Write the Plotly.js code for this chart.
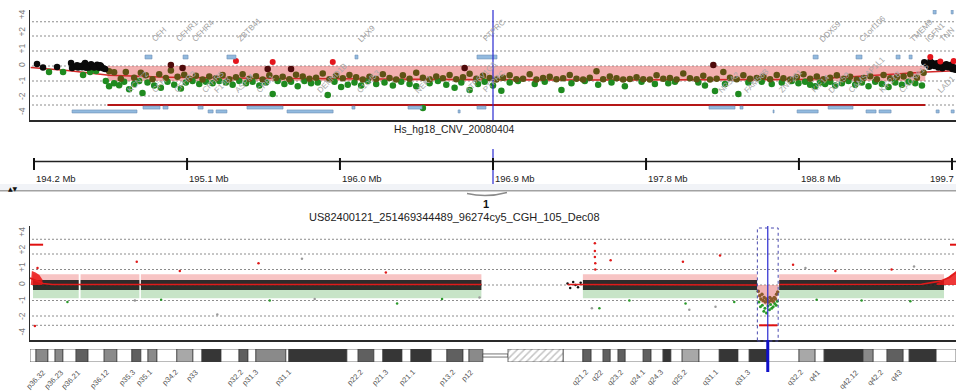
<!DOCTYPE html>
<html><head><meta charset="utf-8">
<script src="https://cdn.plot.ly/plotly-3.0.1.min.js"></script>
<style>html,body{margin:0;padding:0;background:#fff}#chart{width:956px;height:391px}</style>
</head><body><div id="chart"></div>
<script>
// ---------------- data ----------------
const yTickPos = [3.35, 2.2, 1.07, 0, -1.05, -2.1, -3.1];
const yTickText = ['+4', '+2', '+1', '0', '-1', '-2', '-4'];
const gridPos = [2.95, 2.0, 1.0, 0, -1.0, -2.0, -2.6];

const topRange = [194.176, 199.724];
const chromRange = [0, 247.2];
const cursorMb = 196.95;

const rulerTicks = [194.2, 195.117, 196.033, 196.95, 197.867, 198.783, 199.7];
const rulerText = ['194.2 Mb', '195.1 Mb', '196.0 Mb', '196.9 Mb', '197.8 Mb', '198.8 Mb', '199.7'];

const aberStart = [0, 194.64, 245.6];
const aberEnd = [3.5, 199.54, 247.2];
const aberValue = [2.6, -2.6, 2.6];
const shadeStart = 194.64, shadeEnd = 199.54, shadeLow = -1.0;

const smoothX = [194.18, 194.40, 194.65, 195.0, 195.5, 196.0, 196.5, 197.0, 197.5, 198.0, 198.5, 198.8, 199.1, 199.4, 199.55, 199.72];
const smoothY = [-0.1, -0.3, -0.62, -0.75, -0.82, -0.87, -0.9, -0.92, -0.93, -0.93, -0.93, -0.9, -0.72, -0.5, -0.4, -0.32];

const blackX = [194.218,194.254,194.338,194.422,194.428,194.446,194.464,194.476,194.488,194.50,194.506,194.518,194.53,194.542,194.554,194.566,194.578,194.59,194.602,194.614,194.626,194.458,194.512,194.56,194.596,
  199.534,199.552,199.564,199.582,199.594,199.606,199.618,199.63,199.642,199.654,199.666,199.678,199.69,199.702,199.714,199.72,199.570,199.612,199.66,199.696];
const blackY = [0.13,-0.1,-0.07,0.2,-0.13,-0.05,-0.1,0.0,-0.08,0.1,0.2,0.05,-0.1,0.12,0.0,-0.05,0.08,-0.12,-0.02,-0.15,-0.2,0.05,-0.12,-0.1,0.05,
  0.25,0.1,-0.05,0.2,0.0,0.15,-0.1,0.1,-0.15,0.05,0.12,-0.08,0.0,-0.2,-0.1,-0.25,0.3,0.18,-0.05,0.08];
const redX = [195.41, 195.63, 195.99, 199.57, 199.63, 199.71];
const redY = [0.33, 0.27, 0.27, 0.6, 0.3, 0.33];
const maroonX = [195.02, 195.09, 195.60, 195.74, 196.78, 198.27];
const maroonY = [0.07, -0.13, -0.2, -0.2, -0.13, 0.07];

const oliveX = [194.65,194.68,194.72,194.75,194.80,194.84,194.87,194.91,194.95,194.99,
  195.02,195.06,195.10,195.13,195.17,195.21,195.25,195.29,195.33,195.37,
  195.41,195.45,195.49,195.53,195.57,195.61,195.65,195.69,195.73,195.77,
  195.81,195.85,195.89,195.93,195.97,196.01,196.05,196.09,196.13,196.17,
  196.21,196.25,196.29,196.33,196.37,196.41,196.45,196.49,196.53,196.57,
  196.61,196.65,196.69,196.73,196.77,196.81,196.85,196.89,196.93,196.97,
  197.01,197.05,197.09,197.13,197.17,197.21,197.25,197.29,197.33,197.37,
  197.41,197.45,197.49,197.53,197.57,197.61,197.65,197.69,197.73,197.77,
  197.81,197.85,197.89,197.93,197.97,198.01,198.05,198.09,198.13,198.17,
  198.21,198.25,198.29,198.33,198.37,198.41,198.45,198.49,198.53,198.57,
  198.61,198.65,198.69,198.73,198.77,198.81,198.85,198.89,198.93,198.97,
  199.01,199.05,199.09,199.13,199.17,199.21,199.25,199.29,199.33,199.37,
  199.41,199.45,199.49,199.53];
const oliveY = [-0.35,-0.42,-0.85,-0.40,-0.78,-0.45,-0.62,-0.88,-0.55,-0.80,
  -0.30,-0.72,-0.58,-0.85,-0.65,-0.90,-0.70,-0.82,-0.60,-0.88,
  -0.75,-0.55,-0.85,-0.68,-0.90,-0.62,-0.80,-0.72,-0.88,-0.58,
  -0.70,-0.85,-0.78,-0.50,-0.88,-0.65,-0.82,-0.60,-0.75,-0.90,
  -0.72,-0.86,-0.55,-0.80,-0.90,-0.62,-0.85,-0.45,-0.78,-0.88,
  -0.70,-0.82,-0.60,-0.88,-0.75,-0.52,-0.85,-0.65,-0.80,-0.90,
  -0.78,-0.62,-0.88,-0.85,-0.55,-0.90,-0.80,-0.72,-0.88,-0.82,
  -0.60,-0.85,-0.90,-0.78,-0.35,-0.88,-0.70,-0.82,-0.90,-0.86,
  -0.75,-0.88,-0.90,-0.62,-0.85,-0.80,-0.90,-0.50,-0.82,-0.88,
  -0.65,-0.90,-0.85,-0.40,-0.78,-0.88,-0.62,-0.85,-0.80,-0.72,
  -0.88,-0.60,-0.82,-0.90,-0.75,-0.55,-0.85,-0.70,-0.88,-0.78,
  -0.62,-0.85,-0.72,-0.90,-0.80,-0.68,-0.88,-0.60,-0.82,-0.75,
  -0.70,-0.55,-0.78,-0.45];

const greenX = [194.29,194.374,194.494,194.536,194.572,
  194.63,194.65,194.68,194.71,194.74,194.77,194.80,194.83,194.85,194.88,194.92,194.96,195.00,195.04,195.08,
  195.11,195.15,195.19,195.23,195.27,195.31,195.35,195.39,195.43,195.47,195.51,195.55,195.59,195.63,195.66,
  195.70,195.74,195.78,195.82,195.86,195.90,195.96,196.00,196.04,196.08,196.12,196.16,196.20,196.25,196.30,
  196.35,196.40,196.45,196.49,196.53,196.57,196.62,196.67,196.72,196.76,196.81,196.86,196.90,196.95,197.00,
  197.05,197.10,197.20,197.26,197.36,197.42,197.50,197.58,197.66,197.74,197.84,197.92,198.00,198.04,198.18,
  198.22,198.28,198.34,198.42,198.48,198.56,198.62,198.68,198.74,198.78,198.82,198.85,198.88,198.91,198.94,
  198.97,199.00,199.04,199.08,199.12,199.16,199.20,199.24,199.28,199.32,199.36,199.40,199.44,199.48,199.52];
const greenY = [-0.4,-0.4,-0.6,-0.4,-0.33,
  -1.0,-1.35,-1.15,-1.28,-1.05,-1.55,-1.2,-1.0,-1.8,-1.1,-1.3,-1.45,-1.05,-1.25,-1.5,
  -1.1,-1.0,-1.2,-1.05,-1.15,-1.0,-1.1,-1.25,-1.0,-1.15,-1.05,-1.3,-1.1,-1.87,-1.0,
  -1.2,-1.05,-1.35,-1.0,-1.15,-1.1,-1.93,-1.05,-1.4,-1.25,-1.1,-1.3,-1.0,-1.2,-1.1,
  -1.3,-1.05,-1.2,-1.35,-2.8,-1.15,-1.0,-1.25,-1.45,-1.1,-1.6,-1.2,-1.05,-1.3,-1.65,
  -1.1,-1.0,-1.2,-1.05,-1.6,-1.15,-1.0,-1.25,-1.1,-1.35,-1.05,-1.2,-1.15,-1.05,-1.1,
  -1.3,-1.67,-1.2,-1.87,-1.1,-1.05,-1.2,-1.1,-1.0,-1.15,-1.05,-1.25,-1.35,-1.1,-1.2,
  -1.05,-1.3,-1.15,-1.0,-1.25,-1.1,-1.35,-1.05,-1.2,-1.4,-1.1,-1.25,-1.05,-1.15,-1.3];

// gene boxes (row 0: above data, 1/2: below, 3: top edge)
const geneStart = [194.865,195.093,195.356,196.123,196.854,198.868,199.125,199.365,199.443,
  194.853,194.973,195.183,195.476,196.105,196.441,196.854,198.244,198.430,198.958,
  194.428,195.243,195.291,195.716,196.741,198.628,198.772,199.185,199.263,199.605,199.695,
  199.587,199.695];
const geneEnd = [194.907,195.123,195.410,196.141,196.974,198.898,199.161,199.389,199.461,
  194.955,195.003,195.213,195.692,196.123,196.525,196.908,198.400,198.448,199.107,
  194.817,195.273,195.356,195.992,196.753,198.634,198.898,199.245,199.335,199.623,199.713,
  199.605,199.707];
const geneRow = [0,0,0,0,0,0,0,0,0, 1,1,1,1,1,1,1,1,1,1, 2,2,2,2,2,2,2,2,2,2,2, 3,3];

const labelsAbove = ['CFH','CFHR1','CFHR4','ZBTB41','LHX9','PTPRC','DDX59','C1orf106','TMEM9','IGFN1','TNN'];
const labelsAboveX = [194.878,195.028,195.124,195.394,196.114,196.864,198.88,199.12,199.42,199.51,199.6];
const labelsBelow = ['KCNT2','CFH','CFHR3','CFHR5','F13B','ASPM','CRB1','DENND1B','C1orf53','NEK7','ATP6V1G3','PTPRC','NR5A2','FAM58B','ZNF281','KIF14','DDX59','CAMSAP1L1','KIF21B','CACNA1S','LAD1'];
const labelsBelowX = [194.734,194.878,195.016,195.184,195.256,195.376,195.508,195.868,196.108,196.456,196.756,196.864,198.274,198.43,198.634,198.832,198.934,199.054,199.24,199.354,199.585];

// whole chromosome panel
const cloudStart = [0.8, 13.5, 29.6, 147.6, 200.0];
const cloudEnd = [13.0, 29.2, 120.5, 194.1, 244.0];
const cloudLevels = [0.7, 0.33, -0.32, -0.85];
const trendX = [0, 1.5, 3.5, 6, 120.5, null, 143.5, 194.0, null, 200, 238, 243, 245.5, 247.2];
const trendY = [0.45, 0.3, 0.1, 0.03, 0.03, null, 0.03, 0.0, null, 0.03, 0.05, 0.25, 0.5, 0.8];
const blobX = [0.2, 0.5, 1.5, 2.5, 3.3, 3.3, 0.2];
const blobY = [0.0, 0.9, 0.8, 0.65, 0.35, 0.0, 0.0];
const riseX = [242, 244, 245.5, 247.2, 247.2, 242];
const riseY = [0.1, 0.3, 0.6, 0.9, 0.0, 0.0];
const dipX = [194.1, 194.5, 195.3, 196.5, 197.5, 198.7, 199.5, 199.9];
const dipLow = [-0.2, -0.8, -1.15, -1.3, -1.3, -1.15, -0.8, -0.2];
const dipOliveX = [194.4,194.8,195.1,195.4,195.7,196.0,196.3,196.6,196.9,197.2,197.5,197.8,198.1,198.4,198.7,199.0,199.3,199.6];
const dipOliveY = [-0.4,-0.7,-0.9,-0.6,-1.0,-0.8,-1.1,-0.9,-1.0,-1.1,-0.8,-1.0,-0.9,-1.05,-0.8,-0.9,-0.6,-0.45];
const dipGreenX = [194.6,195.0,195.5,195.9,196.2,196.6,197.0,197.4,197.7,198.0,198.4,198.8,199.2,199.5];
const dipGreenY = [-1.1,-1.4,-1.3,-1.7,-1.5,-1.8,-1.35,-1.6,-1.25,-1.5,-1.4,-1.2,-1.3,-1.05];
const qStartX = [143.5, 144.2, 145.0, 145.6, 146.3, 147.0];
const qStartY = [0.1, -0.2, 0.2, 0.0, -0.15, 0.15];
const botRedX = [1.3, 2.0, 28.5, 40.0, 61.0, 95.0, 150.8, 150.8, 150.8, 150.9, 150.9, 155.0, 174.3, 184.2, 203.7, 215.0, 230.0];
const botRedY = [-2.65, 1.1, 1.5, 0.9, 1.4, 0.8, 2.7, 2.2, 1.8, 1.4, 1.0, 1.6, 1.5, 1.9, 1.3, 0.9, 1.0];
const botGreenX = [10, 35, 64, 98, 110, 152, 160, 175, 188, 210, 222, 235];
const botGreenY = [-1.1, -0.95, -1.0, -1.2, -0.9, -1.5, -1.0, -1.2, -1.1, -0.95, -1.0, -1.05];
const botGreyX = [72.6, 28.0, 50.0, 76.0, 120.0, 150.0, 176.0, 183.0, 207.0, 236.0];
const botGreyY = [1.7, -1.0, -1.9, -0.9, -0.8, -1.5, -1.6, -1.4, 1.1, 1.2];

// cytobands of chromosome 1 (Mb)
const bandStart = [0,1.6,4.8,6.7,8.8,12.3,15.5,19.8,23.2,27.2,29.6,31.5,33.9,39.2,43.5,45.9,51.0,55.8,58.2,60.3,68.3,69.1,84.6,87.6,91.8,94.2,99.3,101.7,107.1,111.3,115.6,117.2,
  120.9,127.6,
  142.3,147.6,149.8,153.0,154.9,157.0,158.9,163.7,165.8,169.0,171.1,174.1,178.6,184.0,189.0,192.0,196.8,205.3,209.6,212.0,222.4,225.1,228.8,233.1,234.7,241.9];
const bandEnd = [1.6,4.8,6.7,8.8,12.3,15.5,19.8,23.2,27.2,29.6,31.5,33.9,39.2,43.5,45.9,51.0,55.8,58.2,60.3,68.3,69.1,84.6,87.6,91.8,94.2,99.3,101.7,107.1,111.3,115.6,117.2,120.9,
  127.6,142.3,
  147.6,149.8,153.0,154.9,157.0,158.9,163.7,165.8,169.0,171.1,174.1,178.6,184.0,189.0,192.0,196.8,205.3,209.6,212.0,222.4,225.1,228.8,233.1,234.7,241.9,247.2];
const bandStain = ['w','g50','w','g50','w','g75','w','g50','w','g75','w','g50','w','g25','w','g100','w','g75','w','g50','w','g100','w','g75','w','g100','w','g100','w','g75','w','g50',
  'acen','gvar',
  'w','g75','w','g75','w','g75','w','g75','w','g100','w','g25','w','g100','w','g100','w','g25','w','g100','g50','w','g75','w','g100','w'];
const stainColor = {w:'#ffffff', g25:'#a8a8a8', g50:'#8a8a8a', g75:'#606060', g100:'#363636', acen:'#ffffff', gvar:'#ffffff'};

const cytoLabels = ['p36.32','p36.23','p36.21','p36.12','p35.3','p35.1','p34.2','p33','p32.2','p31.3','p31.1','p22.2','p21.3','p21.1','p13.2','p12',
  'q21.2','q22','q23.2','q24.1','q24.3','q25.2','q31.1','q31.3','q32.2','q41','q42.12','q42.2','q43'];
const cytoLabelX = [5.3,10.1,14.7,22.2,29.4,33.9,40.8,46.2,58.2,62.2,71.0,90.2,96.9,104.1,114.8,119.6,
  150.3,154.3,159.7,165.5,170.3,176.7,185.0,193.6,207.7,212.3,222.4,229.1,234.1];

// ---------------- helpers (layout only) ----------------
const W = 956, H = 391;
const PX = x => x / W;
const PY = y => 1 - y / H;
const FONT = 'Liberation Sans, DejaVu Sans, sans-serif';

function segLines(x0s, x1s, vals) {
  const x = [], y = [];
  x0s.forEach((s, i) => { x.push(s, x1s[i], null); y.push(vals[i], vals[i], null); });
  return {x, y};
}
function rects(starts, ends, top, bot) {
  const x = [], y = [];
  starts.forEach((s, i) => { x.push(s, ends[i], ends[i], s, s, null); y.push(top, top, bot, bot, top, null); });
  return {x, y};
}

const traces = [];
// ---- top panel ----
traces.push({x: smoothX, y: smoothY, mode: 'lines', line: {color: '#d42a2a', width: 1.5}, xaxis: 'x', yaxis: 'y', hoverinfo: 'skip'});
const ab = segLines(aberStart, aberEnd, aberValue);
traces.push({x: ab.x, y: ab.y, mode: 'lines', line: {color: '#b51616', width: 2.2}, xaxis: 'x', yaxis: 'y', hoverinfo: 'skip'});
traces.push({x: greenX, y: greenY, mode: 'markers', marker: {color: '#1f8a1f', size: 6.5}, xaxis: 'x', yaxis: 'y'});
traces.push({x: oliveX, y: oliveY, mode: 'markers', marker: {color: '#5e5214', size: 6.5}, xaxis: 'x', yaxis: 'y'});
traces.push({x: blackX, y: blackY, mode: 'markers', marker: {color: '#0a0a0a', size: 6.5}, xaxis: 'x', yaxis: 'y'});
traces.push({x: maroonX, y: maroonY, mode: 'markers', marker: {color: '#4f0b0b', size: 6.5}, xaxis: 'x', yaxis: 'y'});
traces.push({x: redX, y: redY, mode: 'markers', marker: {color: '#e3151c', size: 6}, xaxis: 'x', yaxis: 'y'});

// ---- bottom panel ----
const cl = cloudLevels;
const gz = rects(cloudStart, cloudEnd, -0.02, cl[3]);
traces.push({x: gz.x, y: gz.y, mode: 'lines', line: {width: 0}, fill: 'toself', fillcolor: 'rgba(70,165,70,0.3)', xaxis: 'x2', yaxis: 'y2', hoverinfo: 'skip'});
const rz = rects(cloudStart, cloudEnd, cl[0], 0.02);
traces.push({x: rz.x, y: rz.y, mode: 'lines', line: {width: 0}, fill: 'toself', fillcolor: 'rgba(228,60,60,0.3)', xaxis: 'x2', yaxis: 'y2', hoverinfo: 'skip'});
const bz = rects(cloudStart, cloudEnd, cl[1], cl[2]);
traces.push({x: bz.x, y: bz.y, mode: 'lines', line: {width: 0}, fill: 'toself', fillcolor: 'rgba(22,22,22,0.88)', xaxis: 'x2', yaxis: 'y2', hoverinfo: 'skip'});
traces.push({x: qStartX, y: qStartY, mode: 'markers', marker: {color: '#111', size: 2.5}, xaxis: 'x2', yaxis: 'y2'});
traces.push({x: blobX, y: blobY, mode: 'lines', line: {width: 0}, fill: 'toself', fillcolor: 'rgba(235,20,20,0.85)', xaxis: 'x2', yaxis: 'y2', hoverinfo: 'skip'});
traces.push({x: riseX, y: riseY, mode: 'lines', line: {width: 0}, fill: 'toself', fillcolor: 'rgba(235,20,20,0.85)', xaxis: 'x2', yaxis: 'y2', hoverinfo: 'skip'});
traces.push({x: dipX.concat(dipX.slice().reverse()), y: dipLow.concat(dipX.map(() => 0)), mode: 'lines', line: {width: 0}, fill: 'toself',
  fillcolor: 'rgba(232,120,120,0.55)', xaxis: 'x2', yaxis: 'y2', hoverinfo: 'skip'});
traces.push({x: dipGreenX, y: dipGreenY, mode: 'markers', marker: {color: '#2a9a2a', size: 3}, xaxis: 'x2', yaxis: 'y2'});
traces.push({x: dipOliveX, y: dipOliveY, mode: 'markers', marker: {color: '#8a5a2a', size: 3.5}, xaxis: 'x2', yaxis: 'y2'});
traces.push({x: trendX, y: trendY, mode: 'lines', line: {color: '#e01a1a', width: 1.6}, connectgaps: false, xaxis: 'x2', yaxis: 'y2', hoverinfo: 'skip'});
traces.push({x: ab.x, y: ab.y, mode: 'lines', line: {color: '#e01010', width: 2}, xaxis: 'x2', yaxis: 'y2', hoverinfo: 'skip'});
traces.push({x: botGreyX, y: botGreyY, mode: 'markers', marker: {color: '#9a9a9a', size: 2.5}, xaxis: 'x2', yaxis: 'y2'});
traces.push({x: botGreenX, y: botGreenY, mode: 'markers', marker: {color: '#2a9a2a', size: 2.5}, xaxis: 'x2', yaxis: 'y2'});
traces.push({x: botRedX, y: botRedY, mode: 'markers', marker: {color: '#e01a1a', size: 2.5}, xaxis: 'x2', yaxis: 'y2'});

// ---- ideogram ----
const solidIdx = bandStain.map((s, i) => i).filter(i => bandStain[i] !== 'gvar');
const hatchIdx = bandStain.map((s, i) => i).filter(i => bandStain[i] === 'gvar');
traces.push({type: 'bar', orientation: 'h', xaxis: 'x2', yaxis: 'y3',
  base: solidIdx.map(i => bandStart[i]), x: solidIdx.map(i => bandEnd[i] - bandStart[i]), y: solidIdx.map(() => 0),
  width: solidIdx.map(i => bandStain[i] === 'acen' ? 0.24 : 1),
  marker: {color: solidIdx.map(i => stainColor[bandStain[i]]), line: {color: '#3a3a3a', width: 0.7}},
  hoverinfo: 'skip'});
traces.push({type: 'bar', orientation: 'h', xaxis: 'x2', yaxis: 'y3',
  base: hatchIdx.map(i => bandStart[i]), x: hatchIdx.map(i => bandEnd[i] - bandStart[i]), y: hatchIdx.map(() => 0), width: 1,
  marker: {color: '#ffffff', line: {color: '#3a3a3a', width: 0.7},
    pattern: {shape: '/', fgcolor: '#8a8a8a', bgcolor: '#ffffff', size: 5, solidity: 0.3, fillmode: 'overlay'}},
  hoverinfo: 'skip'});

// ---------------- shapes ----------------
const shapes = [];
gridPos.forEach(v => {
  shapes.push({type: 'line', xref: 'paper', yref: 'y', x0: PX(32), x1: 1, y0: v, y1: v, layer: 'below', line: {color: '#8c8c8c', width: 1, dash: '2px,2px'}});
  shapes.push({type: 'line', xref: 'paper', yref: 'y2', x0: PX(32), x1: 1, y0: v, y1: v, layer: 'below', line: {color: '#8c8c8c', width: 1, dash: '2px,2px'}});
});
shapes.push({type: 'rect', xref: 'x', yref: 'y', x0: shadeStart, x1: shadeEnd, y0: 0, y1: shadeLow, layer: 'below', fillcolor: 'rgba(232,110,110,0.55)', line: {width: 0}});
const rowY = [[0.73, 0.47], [-2.67, -2.87], [-2.93, -3.13], [3.73, 3.47]];
geneStart.forEach((s, i) => {
  shapes.push({type: 'rect', xref: 'x', yref: 'y', x0: s, x1: geneEnd[i], y0: rowY[geneRow[i]][0], y1: rowY[geneRow[i]][1],
    fillcolor: '#92badf', line: {color: '#6d8fb5', width: 0.6}});
});
// cursor lines
shapes.push({type: 'line', xref: 'x', yref: 'paper', x0: cursorMb, x1: cursorMb, y0: PY(120), y1: PY(10), line: {color: '#2a2ad0', width: 1.2}});
shapes.push({type: 'line', xref: 'x', yref: 'paper', x0: cursorMb, x1: cursorMb, y0: PY(184), y1: PY(149), line: {color: '#2a2ad0', width: 1.2}});
shapes.push({type: 'line', xref: 'x2', yref: 'paper', x0: cursorMb, x1: cursorMb, y0: PY(340), y1: PY(226), line: {color: '#2a2ad0', width: 1.2}});
shapes.push({type: 'line', xref: 'x2', yref: 'paper', x0: cursorMb, x1: cursorMb, y0: PY(372), y1: PY(340), line: {color: '#1010c8', width: 3}});
shapes.push({type: 'rect', xref: 'x2', yref: 'paper', x0: topRange[0], x1: topRange[1], y0: PY(341), y1: PY(228), line: {color: '#4a4ab0', width: 1, dash: 'dot'}});
// ruler
shapes.push({type: 'line', xref: 'x', yref: 'paper', x0: rulerTicks[0], x1: topRange[1], y0: PY(161.5), y1: PY(161.5), line: {color: '#222', width: 1.3}});
rulerTicks.forEach(t => shapes.push({type: 'line', xref: 'x', yref: 'paper', x0: t, x1: t, y0: PY(170), y1: PY(158), line: {color: '#111', width: 2}}));
// separator
shapes.push({type: 'rect', xref: 'paper', yref: 'paper', x0: 0, x1: 1, y0: PY(190), y1: PY(184), fillcolor: '#f1f3f7', line: {width: 0}});
shapes.push({type: 'line', xref: 'paper', yref: 'paper', x0: 0, x1: 1, y0: PY(190.8), y1: PY(190.8), line: {color: '#a2a2a2', width: 1.5}});
shapes.push({type: 'path', xref: 'paper', yref: 'paper', path: `M ${PX(467)},${PY(193.5)} Q ${PX(487)},${PY(198)} ${PX(507)},${PY(192.5)}`, line: {color: '#8a8a8a', width: 1.3}});

// ---------------- annotations ----------------
const ann = [];
labelsAbove.forEach((t, i) => ann.push({x: labelsAboveX[i], y: 1.3, xref: 'x', yref: 'y', text: t, showarrow: false, textangle: -45,
  xanchor: 'left', yanchor: 'bottom', font: {family: FONT, size: 8, color: '#a0a0a0'}}));
labelsBelow.forEach((t, i) => ann.push({x: labelsBelowX[i], y: -2.1, xref: 'x', yref: 'y', text: t, showarrow: false, textangle: -45,
  xanchor: 'left', yanchor: 'bottom', font: {family: FONT, size: 8, color: '#a8a8a8'}}));
rulerTicks.forEach((t, i) => {
  const last = i === rulerTicks.length - 1;
  ann.push({x: last ? 1 : t, y: PY(178.5), xref: last ? 'paper' : 'x', yref: 'paper', text: rulerText[i], showarrow: false,
    xanchor: last ? 'right' : 'left', yanchor: 'middle', font: {family: FONT, size: 9.5, color: '#222'}});
});
cytoLabels.forEach((t, i) => ann.push({x: cytoLabelX[i], y: PY(365), xref: 'x2', yref: 'paper', text: t, showarrow: false, textangle: -45,
  xanchor: 'right', yanchor: 'top', font: {family: FONT, size: 7.5, color: '#555'}}));
ann.push({x: PX(453.5), y: PY(129), xref: 'paper', yref: 'paper', text: 'Hs_hg18_CNV_20080404', showarrow: false, xanchor: 'center', yanchor: 'middle', font: {family: FONT, size: 10.3, color: '#222'}});
ann.push({x: PX(486), y: PY(204), xref: 'paper', yref: 'paper', text: '<b>1</b>', showarrow: false, xanchor: 'center', yanchor: 'middle', font: {family: FONT, size: 11, color: '#111'}});
ann.push({x: PX(454), y: PY(216.5), xref: 'paper', yref: 'paper', text: 'US82400121_251469344489_96274cy5_CGH_105_Dec08', showarrow: false, xanchor: 'center', yanchor: 'middle', font: {family: FONT, size: 11, color: '#222'}});
ann.push({x: PX(13), y: PY(188), xref: 'paper', yref: 'paper', text: '▲▼', showarrow: false, xanchor: 'center', yanchor: 'middle', font: {family: 'DejaVu Sans', size: 6, color: '#111'}});

const yAxisCommon = {showline: true, linecolor: '#2a2a2a', linewidth: 1.5, tickvals: yTickPos, ticktext: yTickText, tickangle: -90,
  tickfont: {family: FONT, size: 8.5, color: '#7a7a7a'}, ticks: '', showgrid: false, zeroline: false, fixedrange: true};
const xAxisCommon = {showline: true, linecolor: '#2a2a2a', linewidth: 1.5, showticklabels: false, ticks: '', showgrid: false, zeroline: false, fixedrange: true};

const layout = {
  width: W, height: H, margin: {l: 0, r: 0, t: 0, b: 0}, paper_bgcolor: '#fff', plot_bgcolor: 'rgba(0,0,0,0)',
  showlegend: false, barmode: 'overlay', hovermode: false,
  xaxis: Object.assign({}, xAxisCommon, {domain: [PX(30), 1], range: topRange, anchor: 'y'}),
  yaxis: Object.assign({}, yAxisCommon, {domain: [PY(120), PY(10)], range: [-3.6, 3.733], anchor: 'x'}),
  xaxis2: Object.assign({}, xAxisCommon, {domain: [PX(30), 1], range: chromRange, anchor: 'y2'}),
  yaxis2: Object.assign({}, yAxisCommon, {domain: [PY(340), PY(226)], range: [-3.548, 3.806], anchor: 'x2'}),
  yaxis3: {domain: [PY(362), PY(349)], range: [-0.5, 0.5], anchor: 'x2', visible: false, fixedrange: true},
  shapes: shapes, annotations: ann
};
Plotly.newPlot('chart', traces, layout, {displayModeBar: false, staticPlot: true});
</script></body></html>
